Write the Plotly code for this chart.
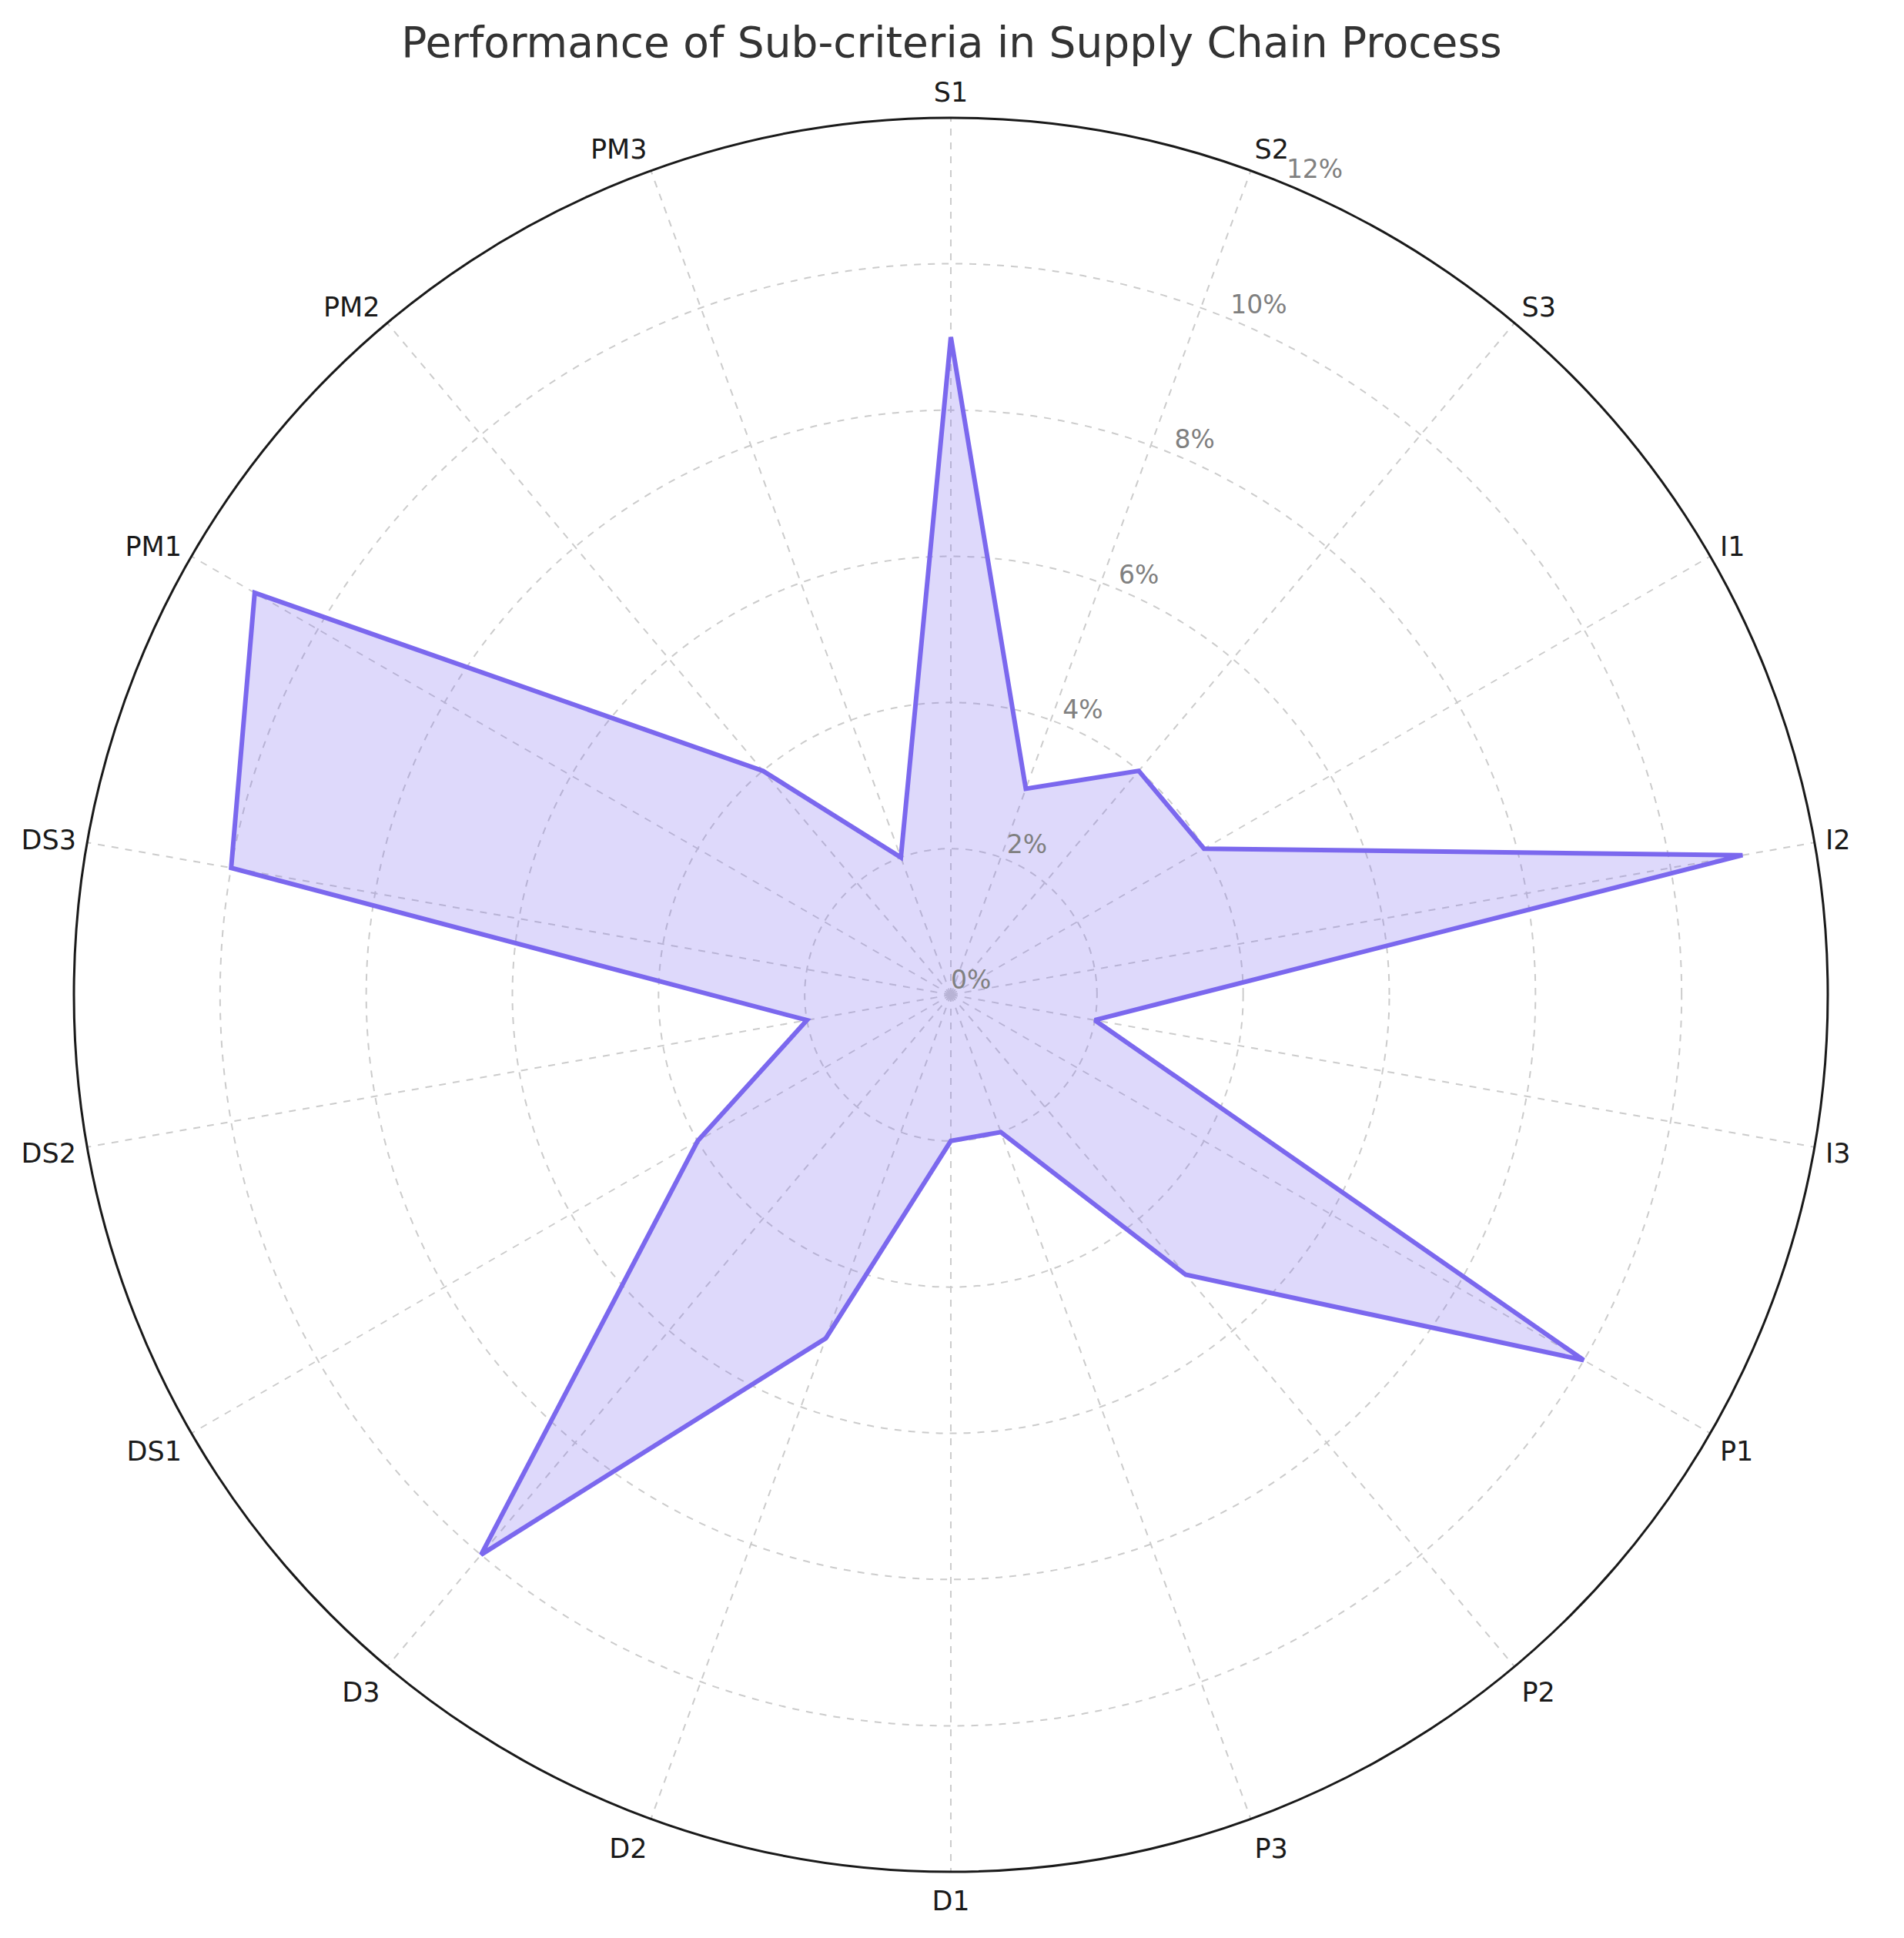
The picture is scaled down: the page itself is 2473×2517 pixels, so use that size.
import plotly.graph_objects as go

# -------------------------------------------------
# Data — sub-criteria scores (%)
# -------------------------------------------------
categories = [
    "S1", "S2", "S3", "I1", "I2", "I3", "P1", "P2", "P3",
    "D1", "D2", "D3", "DS1", "DS2", "DS3", "PM1", "PM2", "PM3",
]
scores = [9, 3, 4, 4, 11, 2, 10, 5, 2, 2, 5, 10, 4, 2, 10, 11, 4, 2]

radial_ticks = [0, 2, 4, 6, 8, 10, 12]
radial_labels = ["0%", "2%", "4%", "6%", "8%", "10%", "12%"]

W, H = 2473, 2517

# spokes evenly spaced, clockwise from the top
step = 360 / len(categories)
thetas = [i * step for i in range(len(categories))]

R_MAX = 12
RLABEL_ANGLE = 22.5  # radial tick labels drawn along this spoke

fig = go.Figure()

# ---- Closed polygon ----
fig.add_trace(
    go.Scatterpolar(
        r=scores + scores[:1],
        theta=thetas + thetas[:1],
        mode="lines",
        fill="toself",
        fillcolor="rgba(123,104,238,0.25)",
        line=dict(color="#7B68EE", width=6),
        showlegend=False,
        hoverinfo="skip",
    )
)

# ---- Radial tick labels ----
fig.add_trace(
    go.Scatterpolar(
        r=radial_ticks,
        theta=[RLABEL_ANGLE] * len(radial_ticks),
        mode="text",
        text=radial_labels,
        textposition="top right",
        textfont=dict(size=33, color="#808080", family="DejaVu Sans"),
        cliponaxis=False,
        showlegend=False,
        hoverinfo="skip",
    )
)

# ---- Layout ----
# the page body adds an 8px offset, so the centre is shifted back by 8px
cx, cy, rad = 1227, 1284, 1139
fig.update_layout(
    width=W,
    height=H,
    paper_bgcolor="white",
    margin=dict(l=0, r=0, t=0, b=0),
    font=dict(family="DejaVu Sans"),
    title=dict(
        text="Performance of Sub-criteria in Supply Chain Process",
        x=(cx + 1) / W,
        xanchor="center",
        y=1 - 47 / H,
        yanchor="middle",
        font=dict(size=55, color="#333333", family="DejaVu Sans"),
    ),
    polar=dict(
        domain=dict(
            x=[(cx - rad) / W, (cx + rad) / W],
            y=[(H - cy - rad) / H, (H - cy + rad) / H],
        ),
        bgcolor="white",
        angularaxis=dict(
            type="linear",
            tickvals=thetas,
            ticktext=categories,
            rotation=90,
            direction="clockwise",
            showline=True,
            linecolor="#1a1a1a",
            linewidth=3,
            showgrid=True,
            gridcolor="#cccccc",
            gridwidth=2,
            griddash="dash",
            ticks="outside",
            ticklen=6,
            tickcolor="rgba(0,0,0,0)",
            tickfont=dict(size=35, color="#1a1a1a"),
        ),
        radialaxis=dict(
            range=[0, R_MAX],
            tickvals=radial_ticks,
            showticklabels=False,
            showline=False,
            showgrid=True,
            gridcolor="#cccccc",
            gridwidth=2,
            griddash="dash",
            ticks="",
        ),
    ),
)

fig.write_html("out.html")
